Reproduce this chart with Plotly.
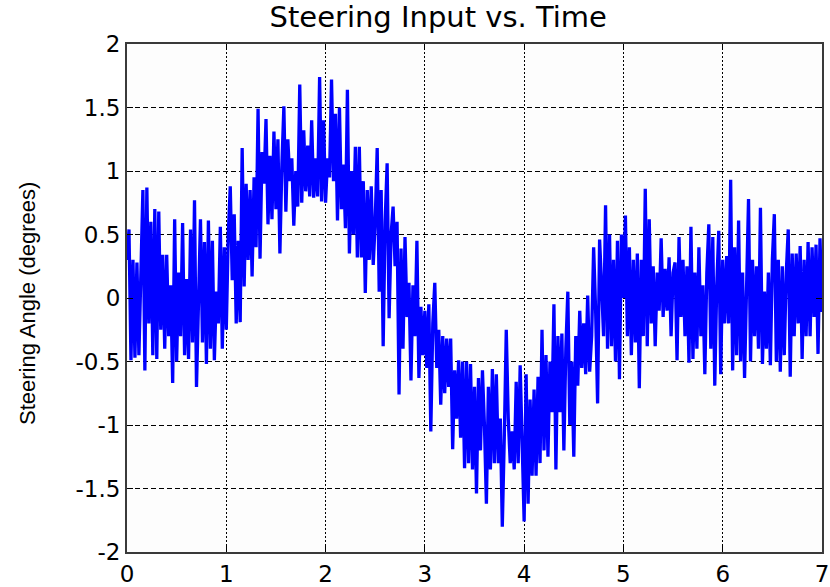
import numpy as np
import plotly.graph_objects as go

# Sample spacing of the steering record (seconds)
dt = 0.02

# Steering angle samples (degrees), one row per 0.2 s block
angle_deg = [
    0.30, 0.54, -0.49, 0.30, -0.47, 0.28, -0.45, 0.10, 0.85, -0.57,
    0.87, -0.20, 0.60, -0.45, 0.70, -0.48, 0.68, -0.25, 0.34, -0.40,
    0.34, -0.30, 0.10, -0.67, 0.62, -0.50, 0.20, -0.30, 0.59, -0.45,
    0.15, -0.48, 0.54, -0.35, 0.77, -0.70, 0.05, 0.62, -0.35, 0.44,
    -0.52, 0.61, -0.40, 0.45, -0.49, 0.05, -0.20, 0.56, -0.40, 0.40,
    -0.25, 0.50, 0.88, 0.14, 0.66, -0.20, 0.45, -0.19, 1.18, 0.09,
    0.90, 0.30, 0.85, 0.17, 0.95, 0.40, 1.49, 0.31, 1.15, 0.90,
    1.41, 0.58, 1.12, 0.62, 1.31, 0.70, 1.25, 0.35, 1.05, 1.51,
    0.68, 1.25, 0.92, 1.10, 0.57, 1.00, 0.72, 1.68, 0.75, 1.32,
    0.84, 1.20, 0.80, 1.40, 0.79, 1.10, 0.80, 1.74, 0.76, 1.40,
    0.75, 1.10, 0.95, 1.72, 0.92, 1.45, 0.61, 1.50, 0.70, 1.05,
    0.55, 1.64, 0.35, 1.00, 0.50, 1.19, 0.32, 1.19, 0.32, 0.92,
    0.04, 0.85, 0.30, 0.88, 0.26, 0.60, 1.18, 0.05, 0.85, -0.38,
    0.60, 1.06, -0.16, 0.50, 0.72, 0.25, 0.60, -0.76, 0.39, -0.40,
    0.48, -0.15, 0.12, -0.65, 0.10, -0.30, 0.45, -0.63, -0.07, -0.45,
    -0.10, -0.55, -0.05, -1.05, -0.20, 0.12, -0.55, -0.25, -0.84, -0.30,
    -0.75, -0.32, -0.70, -0.32, -1.19, -0.57, -0.95, -0.49, -1.10, -0.50,
    -1.34, -0.50, -1.30, -0.52, -1.35, -0.70, -1.54, -0.63, -1.20, -0.57,
    -1.00, -1.62, -0.70, -1.35, -0.56, -1.30, -0.60, -1.30, -0.95, -1.80,
    -1.10, -0.25, -0.95, -1.30, -1.05, -1.35, -0.66, -1.30, -0.53, -1.10,
    -1.76, -0.60, -1.62, -0.80, -1.40, -0.72, -1.40, -0.62, -1.30, -0.25,
    -1.20, -0.45, -1.25, -0.50, -0.90, -0.05, -1.35, -0.30, -0.90, -0.28,
    -1.20, -0.40, 0.05, -1.00, -0.50, -1.25, -0.30, -0.69, -0.10, -0.55,
    -0.20, -0.60, 0.02, -0.58, -0.30, 0.40, -0.10, -0.83, 0.46, 0.10,
    -0.30, 0.73, -0.40, 0.50, -0.38, 0.30, -0.50, 0.45, -0.64, 0.50,
    0.00, 0.65, -0.30, 0.40, -0.45, 0.30, -0.35, 0.35, -0.71, 0.30,
    -0.30, 0.86, -0.38, 0.62, -0.20, 0.25, -0.38, 0.20, -0.10, 0.47,
    -0.15, 0.23, -0.10, 0.32, -0.30, 0.20, 0.28, -0.49, 0.48, -0.15,
    0.30, -0.30, 0.25, -0.51, 0.56, -0.48, 0.20, -0.40, 0.40, -0.30,
    0.10, -0.60, 0.20, 0.58, -0.40, 0.48, -0.69, 0.10, 0.53, -0.60,
    0.30, -0.20, 0.33, -0.20, 0.93, -0.57, 0.40, -0.45, 0.61, -0.50,
    0.20, -0.63, 0.25, 0.78, -0.50, 0.30, -0.30, 0.25, -0.40, 0.71,
    -0.52, 0.05, -0.40, 0.20, -0.53, 0.30, 0.66, -0.50, 0.30, -0.58,
    0.25, -0.45, 0.20, 0.54, -0.62, 0.35, -0.30, 0.35, -0.20, 0.41,
    -0.48, 0.30, -0.30, 0.44, -0.30, 0.40, -0.15, 0.42, -0.44, 0.47,
    -0.11,
]

time_s = np.arange(len(angle_deg)) * dt

x_ticks = [0, 1, 2, 3, 4, 5, 6, 7]
y_ticks = [-2, -1.5, -1, -0.5, 0, 0.5, 1, 1.5, 2]
y_tick_text = ["-2", "-1.5", "-1", "-0.5", "0", "0.5", "1", "1.5", "2"]

TICK_FONT = dict(family="DejaVu Sans, Arial, sans-serif", size=23, color="#000000")

fig = go.Figure()
fig.add_trace(go.Scatter(
    x=time_s, y=angle_deg, mode="lines",
    line=dict(color="rgb(0,0,255)", width=3.3),
    showlegend=False,
))

axis_common = dict(
    showline=True, linecolor="#3a3a3a", linewidth=2, mirror="ticks",
    ticks="inside", ticklen=6, tickcolor="#000000", tickwidth=1,
    showgrid=True, gridcolor="#000000", gridwidth=1,
    zeroline=False, automargin=False, ticklabeloverflow="allow",
    tickfont=TICK_FONT,
)

fig.update_xaxes(
    range=[0, 7], tickvals=x_ticks, griddash="2px,2px", **axis_common,
)
fig.update_yaxes(
    range=[-2, 2], tickvals=y_ticks, ticktext=y_tick_text, griddash="5px,3px",
    **axis_common,
)

# Vertical axis label, placed in the left margin
fig.add_annotation(
    text="Steering Angle (degrees)", textangle=-90,
    xref="paper", yref="paper", x=-0.144, y=0.49,
    xanchor="center", yanchor="middle", showarrow=False,
    font=dict(family="Arial, Liberation Sans, sans-serif", size=22, color="#000000"),
)

fig.update_layout(
    width=830, height=587,
    margin=dict(l=127, r=7.5, t=44, b=35),
    paper_bgcolor="#ffffff", plot_bgcolor="#fdfdfd",
    title=dict(text="Steering Input vs. Time", x=0.528, xanchor="center",
               y=0.988, yanchor="top",
               font=dict(family="DejaVu Sans, Arial, sans-serif", size=29, color="#000000")),
)

fig.write_html("out.html")
